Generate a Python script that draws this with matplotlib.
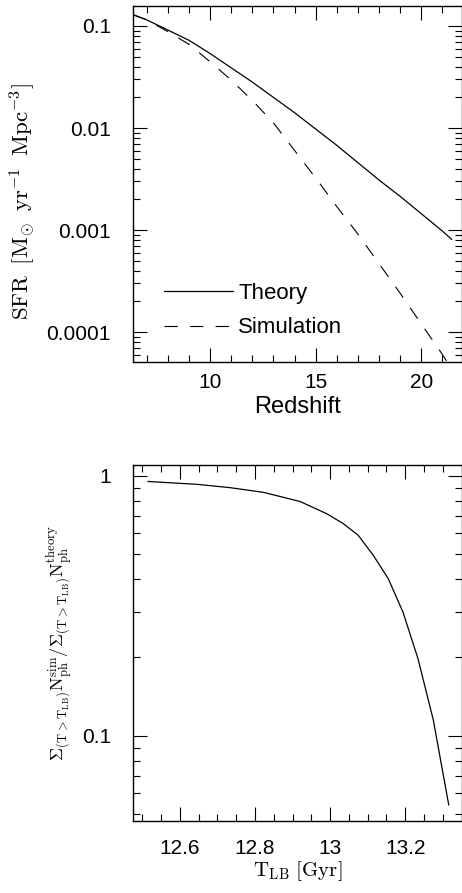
import numpy as np
import matplotlib
matplotlib.use("Agg")
import matplotlib.pyplot as plt
from matplotlib.ticker import FixedLocator, FixedFormatter, MultipleLocator, LogLocator, NullFormatter

plt.rcParams['font.family'] = ['Liberation Sans', 'DejaVu Sans']
plt.rcParams['mathtext.fontset'] = 'cm'

# star formation rate density vs redshift (log10 values)
z_theory = [6.35, 7, 8, 9, 10, 11, 12, 13, 14, 15, 16, 17, 18, 19, 20, 21, 21.43]
logsfr_theory = [-0.889, -0.94, -1.04, -1.14, -1.27, -1.41, -1.55, -1.70, -1.85, -2.01,
                 -2.17, -2.34, -2.51, -2.67, -2.84, -3.01, -3.09]
z_sim = [6.35, 7, 8, 9, 10, 11, 12, 13, 14, 15, 16, 17, 18, 19, 20, 21, 21.4]
logsfr_sim = [-0.889, -0.94, -1.055, -1.18, -1.35, -1.53, -1.73, -1.95, -2.22, -2.49,
              -2.77, -3.04, -3.33, -3.62, -3.92, -4.22, -4.35]

# cumulative photon ratio vs lookback time
t_lb = [12.515, 12.646, 12.735, 12.823, 12.92, 12.991, 13.035, 13.075, 13.115,
        13.155, 13.194, 13.234, 13.275, 13.316]
log_ratio = [-0.022, -0.033, -0.046, -0.064, -0.099, -0.146, -0.184, -0.229, -0.306,
             -0.396, -0.524, -0.703, -0.94, -1.266]

sfr_ticks = [0.1, 0.01, 0.001, 0.0001]
sfr_ticklabels = ['0.1', '0.01', '0.001', '0.0001']
z_ticks = [10, 15, 20]
ratio_ticks = [1, 0.1]
ratio_ticklabels = ['1', '0.1']
t_ticks = [12.6, 12.8, 13.0, 13.2]
t_ticklabels = ['12.6', '12.8', '13', '13.2']

W, H = 462, 893
fig = plt.figure(figsize=(W / 100, H / 100), dpi=100)

def px_axes(left, top, right, bottom):
    return fig.add_axes([left / W, 1 - bottom / H, (right - left) / W, (bottom - top) / H])

ax1 = px_axes(133, 6, 461.5, 362)
ax2 = px_axes(133, 465, 461.5, 821)

for ax in (ax1, ax2):
    ax.tick_params(which='both', direction='in', top=True, right=True, width=0.8, labelsize=15)
    ax.tick_params(which='major', length=10)
    ax.tick_params(which='minor', length=5)
    for s in ax.spines.values():
        s.set_linewidth(1.0)

# top panel
ax1.plot(z_theory, 10 ** np.array(logsfr_theory), color='black', lw=0.9, label='Theory')
ax1.plot(z_sim, 10 ** np.array(logsfr_sim), color='black', lw=0.8, dashes=(12, 11), label='Simulation')
ax1.set_yscale('log')
ax1.set_xlim(6.35, 21.9)
ax1.set_ylim(5.1e-5, 0.157)
ax1.xaxis.set_major_locator(FixedLocator(z_ticks))
ax1.xaxis.set_minor_locator(MultipleLocator(1))
ax1.yaxis.set_major_locator(FixedLocator(sfr_ticks))
ax1.yaxis.set_major_formatter(FixedFormatter(sfr_ticklabels))
ax1.yaxis.set_minor_locator(LogLocator(base=10, subs=np.arange(2, 10)))
ax1.yaxis.set_minor_formatter(NullFormatter())
ax1.tick_params(axis='y', which='major', pad=16)
ax1.tick_params(axis='x', which='major', pad=8)
ax1.set_xlabel('Redshift', fontsize=17, labelpad=3)
fig.text(23 / W, 1 - 202 / H,
         r'$\mathrm{SFR}\;\;[\mathrm{M}_{\odot}\;\;\mathrm{yr}^{-1}\;\;\mathrm{Mpc}^{-3}]$',
         rotation=90, ha='center', va='center', fontsize=16.5)
ax1.legend(loc='lower left', bbox_to_anchor=(0.06, 0.035), frameon=False, fontsize=16,
           handlelength=3.1, handletextpad=0.25, labelspacing=0.62, borderpad=0)

# bottom panel
ax2.plot(t_lb, 10 ** np.array(log_ratio), color='black', lw=0.9)
ax2.set_yscale('log')
ax2.set_xlim(12.475, 13.35)
ax2.set_ylim(0.047, 1.1)
ax2.xaxis.set_major_locator(FixedLocator(t_ticks))
ax2.xaxis.set_major_formatter(FixedFormatter(t_ticklabels))
ax2.xaxis.set_minor_locator(MultipleLocator(0.05))
ax2.yaxis.set_major_locator(FixedLocator(ratio_ticks))
ax2.yaxis.set_major_formatter(FixedFormatter(ratio_ticklabels))
ax2.yaxis.set_minor_locator(LogLocator(base=10, subs=np.arange(2, 10)))
ax2.yaxis.set_minor_formatter(NullFormatter())
ax2.tick_params(axis='y', which='major', pad=16)
ax2.tick_params(axis='x', which='major', pad=13)
ax2.set_xlabel(r'$\mathrm{T}_{\mathrm{LB}}\ [\mathrm{Gyr}]$', fontsize=15, labelpad=1)
fig.text(60 / W, 1 - 643 / H,
         r'$\Sigma_{(\mathrm{T}>\mathrm{T}_{\mathrm{LB}})}\mathrm{N}_{\mathrm{ph}}^{\mathrm{sim}}'
         r'/\Sigma_{(\mathrm{T}>\mathrm{T}_{\mathrm{LB}})}\mathrm{N}_{\mathrm{ph}}^{\mathrm{theory}}$',
         rotation=90, ha='center', va='center', fontsize=13)

fig.savefig('out.png', dpi=100)
